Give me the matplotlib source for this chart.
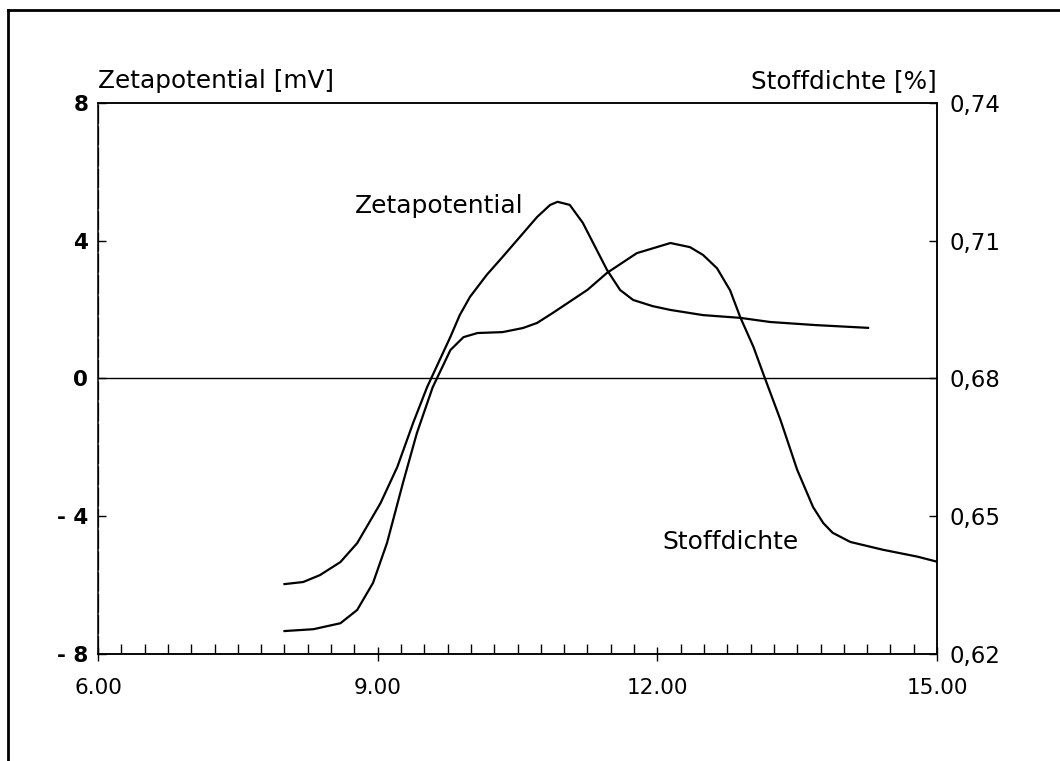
import matplotlib.pyplot as plt
from matplotlib.lines import Line2D
from matplotlib.ticker import MultipleLocator, FuncFormatter

plt.rcParams['font.family'] = ['DejaVu Sans']

# Werte
zeta_x = [8.00, 8.20, 8.38, 8.60, 8.78, 9.03, 9.21, 9.38, 9.53, 9.78, 9.88, 9.99, 10.17,
          10.34, 10.71, 10.85, 10.93, 11.06, 11.20, 11.35, 11.46, 11.60, 11.74, 11.95,
          12.14, 12.49, 12.89, 13.21, 13.70, 14.26]
zeta_y = [-5.97, -5.91, -5.71, -5.33, -4.78, -3.62, -2.57, -1.29, -0.25, 1.21, 1.84, 2.37, 3.01,
          3.53, 4.69, 5.04, 5.13, 5.04, 4.52, 3.73, 3.15, 2.57, 2.28, 2.10,
          1.99, 1.84, 1.76, 1.64, 1.55, 1.47]

stoff_x = [8.00, 8.31, 8.60, 8.78, 8.95, 9.10, 9.27, 9.42, 9.59, 9.78, 9.92, 10.07,
           10.34, 10.56, 10.71, 10.88, 11.25, 11.46, 11.78, 12.14, 12.35, 12.49, 12.64,
           12.78, 12.89, 13.03, 13.14, 13.32, 13.50, 13.67, 13.78, 13.88, 14.07, 14.42,
           14.79, 15.00]
stoff_y = [0.6250, 0.6254, 0.6267, 0.6296, 0.6355, 0.6442, 0.6572, 0.6681, 0.6781, 0.6862,
           0.6890, 0.6899, 0.6901, 0.6910, 0.6921, 0.6943, 0.6993, 0.7030, 0.7073, 0.7095,
           0.7086, 0.7069, 0.7040, 0.6992, 0.6933, 0.6869, 0.6808, 0.6710, 0.6601, 0.6520,
           0.6485, 0.6464, 0.6444, 0.6427, 0.6412, 0.6401]

x_ticks = [6, 9, 12, 15]
zeta_ticks = [-8, -4, 0, 4, 8]
stoff_ticks = [0.62, 0.65, 0.68, 0.71, 0.74]

fig = plt.figure(figsize=(10.6, 7.61), dpi=100)
ax = fig.add_axes([0.0925, 0.1406, 0.7915, 0.7241])
ax2 = ax.twinx()

ax.set_xlim(6, 15)
ax.set_ylim(-8, 8)
ax2.set_ylim(0.62, 0.74)

ax.plot(zeta_x, zeta_y, color='black', lw=1.6, solid_joinstyle='round')
ax2.plot(stoff_x, stoff_y, color='black', lw=1.6, solid_joinstyle='round')
ax.axhline(0, color='black', lw=1.0)

# Achsen
for a in (ax, ax2):
    for s in a.spines.values():
        s.set_linewidth(1.1)
ax.spines['left'].set_linewidth(0.9)
ax.spines['left'].set_linestyle((0, (14, 3)))

ax.set_xticks(x_ticks)
ax.xaxis.set_minor_locator(MultipleLocator(0.25))
ax.xaxis.set_major_formatter(FuncFormatter(lambda v, p: f'{v:.2f}'))
ax.tick_params(axis='x', which='both', direction='in', length=7, width=1, pad=12, labelsize=15.5)
ax.tick_params(axis='x', which='major', direction='inout', length=10)

ax.set_yticks(zeta_ticks)
ax.set_yticklabels([str(v) if v >= 0 else '- ' + str(-v) for v in zeta_ticks],
                   fontweight='bold')
ax.tick_params(axis='y', direction='in', length=6, width=1, pad=7, labelsize=15.5)

ax2.set_yticks(stoff_ticks)
ax2.yaxis.set_major_formatter(FuncFormatter(lambda v, p: f'{v:.2f}'.replace('.', ',')))
ax2.tick_params(axis='y', direction='in', length=6, width=1, pad=9, labelsize=16.5)

# Beschriftungen
ax.text(0.0, 1.04, 'Zetapotential [mV]', transform=ax.transAxes, fontsize=17.8,
        ha='left', va='center')
ax2.text(1.0, 1.04, 'Stoffdichte [%]', transform=ax.transAxes, fontsize=17.8,
         ha='right', va='center')
ax.text(9.66, 5.0, 'Zetapotential', fontsize=18, ha='center', va='center')
ax.text(12.78, -4.75, 'Stoffdichte', fontsize=18, ha='center', va='center')

# Rahmen
fig.add_artist(Line2D([0.0075, 1.0], [0.9869, 0.9869], color='black', lw=2))
fig.add_artist(Line2D([0.0075, 0.0075], [0.0, 0.9869], color='black', lw=2))

fig.savefig('out.png', dpi=100)
